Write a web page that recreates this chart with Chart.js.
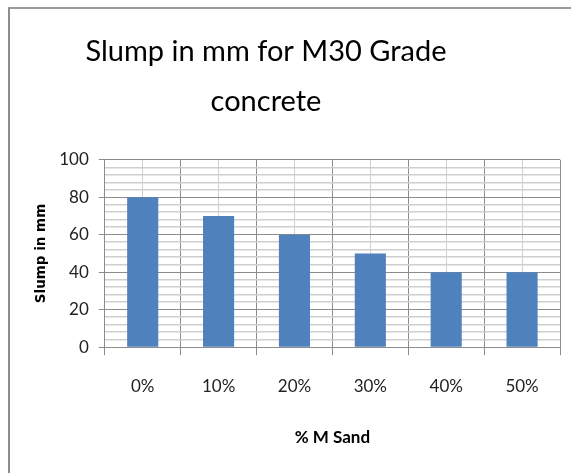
<!DOCTYPE html>
<html>
<head>
<meta charset="utf-8">
<script src="https://cdn.jsdelivr.net/npm/chart.js@4"></script>
<style>
    body { margin: 0; background: #fff; }
    #wrap { position: relative; width: 571px; height: 473px; }
    #frame {
        position: absolute; left: 8px; top: 7px; right: 0; bottom: 0;
        border-left: 2px solid #8c8c8c; border-top: 2px solid #9a9a9a;
        pointer-events: none;
    }
</style>
</head>
<body>
<div id="wrap">
    <canvas id="slumpChart" width="571" height="473"></canvas>
    <div id="frame"></div>
</div>
<script>
// slump values
const categories = ['0%', '10%', '20%', '30%', '40%', '50%'];
const slump = [80, 70, 60, 50, 40, 40];
const titleLines = ['Slump in mm for M30 Grade', 'concrete'];

const narrow = "Lato, 'DejaVu Sans Condensed', sans-serif";

// the title in the picture sits left of the canvas centre, so narrow its box a bit
const titleShift = {
    id: 'titleShift',
    afterLayout(chart) {
        const t = chart.titleBlock;
        if (t) {
            t.left = 0;
            t.right = 532;
            t.width = t.right - t.left;
        }
    }
};

const ctx = document.getElementById('slumpChart').getContext('2d');
const slumpChart = new Chart(ctx, {
    type: 'bar',
    data: {
        labels: categories,
        datasets: [{
            label: 'Slump',
            data: slump,
            backgroundColor: '#4f81bd',
            barPercentage: 0.41,
            categoryPercentage: 1.0,
            xAxisID: 'x'
        }]
    },
    options: {
        responsive: false,
        animation: false,
        layout: {
            padding: { left: 33, right: 11, top: 27, bottom: 25 }
        },
        plugins: {
            legend: { display: false },
            tooltip: { enabled: false },
            title: {
                display: true,
                text: titleLines,
                color: '#000',
                font: { family: narrow, size: 29, weight: 'normal', lineHeight: 1.72 },
                padding: { top: 0, bottom: 33 }
            }
        },
        scales: {
            x: {
                type: 'category',
                grid: {
                    offset: true,
                    color: '#8c8c8c',
                    tickColor: '#8c8c8c',
                    tickLength: 8
                },
                border: { color: '#8c8c8c' },
                ticks: {
                    color: '#222',
                    padding: 21,
                    font: { family: narrow, size: 17 }
                },
                title: {
                    display: true,
                    text: '% M Sand',
                    color: '#000',
                    font: { family: narrow, size: 17, weight: 'bold' },
                    padding: { top: 10, bottom: 0 }
                }
            },
            x2: {
                type: 'category',
                labels: categories,
                offset: true,
                position: 'bottom',
                grid: {
                    offset: false,
                    color: '#d0d0d0',
                    drawTicks: false
                },
                border: { display: false },
                ticks: { display: false }
            },
            y: {
                min: 0,
                max: 100,
                ticks: {
                    stepSize: 4,
                    autoSkip: false,
                    color: '#222',
                    padding: 10,
                    font: { family: narrow, size: 17 },
                    callback: (v) => (v % 20 === 0 ? v : '')
                },
                grid: {
                    color: (c) => (c.tick && c.tick.value % 20 === 0 ? '#8c8c8c' : '#cfcfcf'),
                    lineWidth: (c) => (c.tick && c.tick.value % 20 === 0 ? 1 : 1.5),
                    tickColor: (c) => (c.tick && c.tick.value % 20 === 0 ? '#8c8c8c' : 'rgba(0,0,0,0)'),
                    tickLength: 6
                },
                border: { color: '#8c8c8c' },
                title: {
                    display: true,
                    text: 'Slump in mm',
                    color: '#000',
                    font: { family: "Verdana, 'DejaVu Sans', sans-serif", size: 13.5, weight: 'bold' },
                    padding: { top: 0, bottom: 0 }
                }
            }
        }
    },
    plugins: [titleShift]
});
</script>
</body>
</html>
